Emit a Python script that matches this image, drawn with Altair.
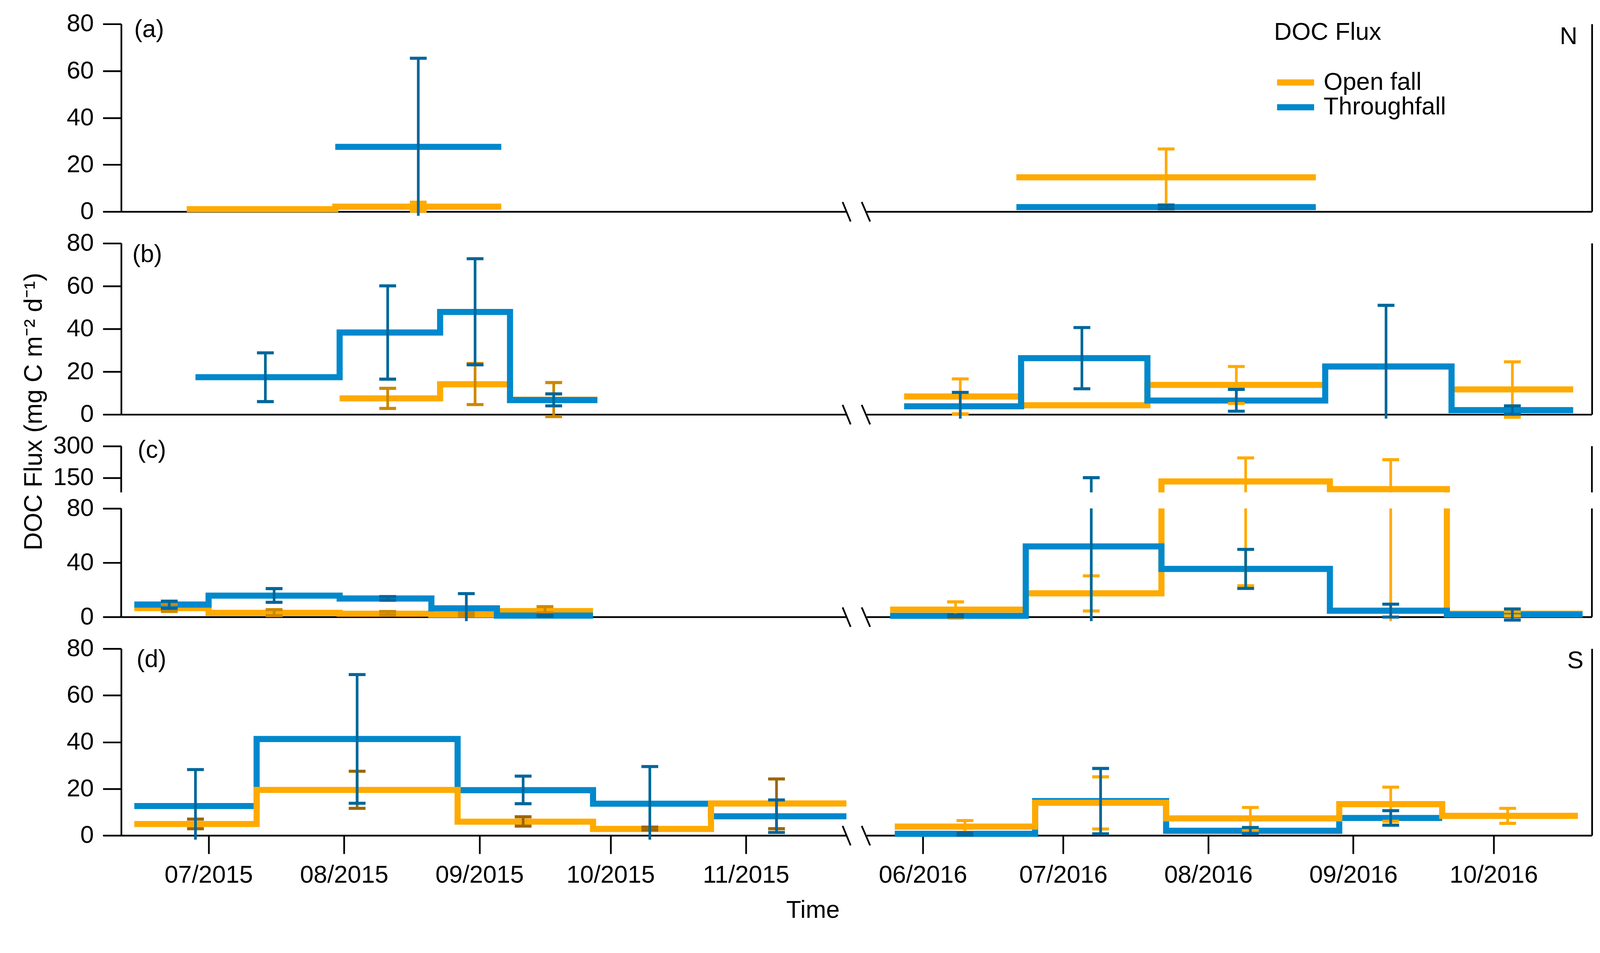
import altair as alt
import pandas as pd

FONT = "Liberation Sans"
ORANGE = "#FFAA00"
BLUE = "#0088CC"
BLUE_ERR = "#00669A"
SERIES = ["Open fall", "Throughfall"]
YTITLE = "DOC Flux (mg C m\u207b\u00b2 d\u207b\u00b9)"

# ---------------- data ----------------
months_2015 = [7, 8, 9, 10, 11]
months_2016 = [6, 7, 8, 9, 10]

# Panel (a) N
a15_bounds = ["2015-06-26", "2015-07-30", "2015-09-06"]
a15_open = [1.0, 2.1]
a15_thru = [None, 27.6]
a15_eb = ["2015-08-18"]
a15_open_lo = [0.2]
a15_open_hi = [4.0]
a15_thru_lo = [-4.0]
a15_thru_hi = [65.4]

a16_bounds = ["2016-06-21", "2016-08-24"]
a16_open = [14.6]
a16_thru = [1.9]
a16_eb = ["2016-07-23"]
a16_open_lo = [2.9]
a16_open_hi = [26.7]
a16_thru_lo = [1.2]
a16_thru_hi = [2.7]

# Panel (b)
b15_bounds = ["2015-06-28", "2015-07-31", "2015-08-23", "2015-09-08", "2015-09-28"]
b15_open = [None, 7.5, 14.1, 6.9]
b15_thru = [17.4, 38.3, 47.9, 6.7]
b15_eb = ["2015-07-14", "2015-08-11", "2015-08-31", "2015-09-18"]
b15_open_lo = [None, 2.8, 4.6, -1.0]
b15_open_hi = [None, 12.2, 23.8, 14.9]
b15_thru_lo = [6.0, 16.5, 23.2, 4.0]
b15_thru_hi = [28.8, 60.1, 72.8, 9.6]

b16_bounds = ["2016-05-28", "2016-06-22", "2016-07-19", "2016-08-26", "2016-09-22", "2016-10-18"]
b16_open = [8.4, 4.3, 13.8, None, 11.7]
b16_thru = [3.8, 26.3, 6.5, 22.4, 2.0]
b16_eb = ["2016-06-09", "2016-07-05", "2016-08-07", "2016-09-08", "2016-10-05"]
b16_open_lo = [0.3, None, 5.1, None, -1.3]
b16_open_hi = [16.6, None, 22.4, None, 24.6]
b16_thru_lo = [-4.0, 12.0, 1.5, -4.0, 0.1]
b16_thru_hi = [10.3, 40.6, 11.7, 51.0, 4.0]

# Panel (c)  (broken y axis: 0-80 and 80-300)
c15_bounds = ["2015-06-14", "2015-07-01", "2015-07-31", "2015-08-21", "2015-09-05", "2015-09-27"]
c15_open = [6.5, 3.0, 2.4, 1.7, 4.3]
c15_thru = [9.1, 15.7, 13.6, 6.3, 1.0]
c15_eb = ["2015-06-22", "2015-07-16", "2015-08-11", "2015-08-29", "2015-09-16"]
c15_open_lo = [4.0, 1.0, 1.5, 0.8, 3.0]
c15_open_hi = [9.1, 5.4, 4.0, 3.0, 7.6]
c15_thru_lo = [6.3, 10.8, 12.3, -6.0, 0.5]
c15_thru_hi = [11.6, 20.9, 15.0, 17.2, 1.5]

c16_bounds = ["2016-05-25", "2016-06-23", "2016-07-22", "2016-08-27", "2016-09-21", "2016-10-20"]
c16_open = [5.4, 17.4, 132.2, 95.4, 2.4]
c16_thru = [0.8, 52.0, 35.4, 4.6, 1.8]
c16_eb = ["2016-06-08", "2016-07-07", "2016-08-09", "2016-09-09", "2016-10-05"]
c16_open_lo = [-0.9, 4.4, 23.0, -6.0, 0.8]
c16_open_hi = [11.1, 30.3, 244.0, 235.5, 4.0]
c16_thru_lo = [0.0, -6.0, 21.0, -0.1, -2.3]
c16_thru_hi = [1.5, 150.0, 49.8, 9.4, 5.9]

# Panel (d) S
d15_bounds = ["2015-06-14", "2015-07-12", "2015-08-27", "2015-09-27", "2015-10-24", "2015-11-24"]
d15_open = [4.9, 19.5, 5.9, 2.8, 13.7]
d15_thru = [12.6, 41.3, 19.4, 13.6, 8.2]
d15_eb = ["2015-06-28", "2015-08-04", "2015-09-11", "2015-10-10", "2015-11-08"]
d15_open_lo = [2.9, 11.6, 4.0, 2.3, 2.9]
d15_open_hi = [7.0, 27.5, 8.0, 3.6, 24.2]
d15_thru_lo = [-4.0, 13.8, 13.6, -4.0, 1.3]
d15_thru_hi = [28.2, 68.9, 25.4, 29.5, 15.2]

d16_bounds = ["2016-05-26", "2016-06-25", "2016-07-23", "2016-08-29", "2016-09-20", "2016-10-19"]
d16_open = [3.8, 14.0, 7.3, 13.4, 8.4]
d16_thru = [0.7, 14.7, 2.0, 7.5, None]
d16_eb = ["2016-06-10", "2016-07-09", "2016-08-10", "2016-09-09", "2016-10-04"]
d16_open_lo = [1.4, 2.8, 2.3, 6.1, 5.2]
d16_open_hi = [6.4, 25.1, 12.0, 20.7, 11.6]
d16_thru_lo = [0.2, 0.7, 0.7, 4.4, None]
d16_thru_hi = [1.2, 28.7, 3.4, 10.6, None]


def pack(bounds, op, th, eb, olo, ohi, tlo, thi):
    return dict(bounds=bounds, open=op, thru=th, eb=eb,
                open_lo=olo, open_hi=ohi, thru_lo=tlo, thru_hi=thi)


PANELS = {
    "a15": pack(a15_bounds, a15_open, a15_thru, a15_eb, a15_open_lo, a15_open_hi, a15_thru_lo, a15_thru_hi),
    "a16": pack(a16_bounds, a16_open, a16_thru, a16_eb, a16_open_lo, a16_open_hi, a16_thru_lo, a16_thru_hi),
    "b15": pack(b15_bounds, b15_open, b15_thru, b15_eb, b15_open_lo, b15_open_hi, b15_thru_lo, b15_thru_hi),
    "b16": pack(b16_bounds, b16_open, b16_thru, b16_eb, b16_open_lo, b16_open_hi, b16_thru_lo, b16_thru_hi),
    "c15": pack(c15_bounds, c15_open, c15_thru, c15_eb, c15_open_lo, c15_open_hi, c15_thru_lo, c15_thru_hi),
    "c16": pack(c16_bounds, c16_open, c16_thru, c16_eb, c16_open_lo, c16_open_hi, c16_thru_lo, c16_thru_hi),
    "d15": pack(d15_bounds, d15_open, d15_thru, d15_eb, d15_open_lo, d15_open_hi, d15_thru_lo, d15_thru_hi),
    "d16": pack(d16_bounds, d16_open, d16_thru, d16_eb, d16_open_lo, d16_open_hi, d16_thru_lo, d16_thru_hi),
}

# ---------------- layout constants ----------------
W = 1898
FLOOR_PX = 11
AXW = 4.5
H_A, H_B, H_C, H_D = 491, 448, 447, 489

# panel (c): lower part 0-80 (284 px), gap 42 px, upper part 80-300 (121 px)
C_LOW_PX, C_UP_PX = 284, 121
C_PPU = C_LOW_PX / 80.0                      # px per lower unit
C_VMAX = H_C / C_PPU                         # scale top in lower units
C_U80 = (H_C - C_UP_PX) / C_PPU              # where 80 of the upper part sits
C_KU = (C_UP_PX / 220.0) / C_PPU             # upper units -> lower units


def c_upper(v):
    return min(C_U80 + (v - 80.0) * C_KU, C_VMAX)


def ident(v):
    return v


XDOM = {
    2015: [alt.DateTime(year=2015, month=6, date=11, utc=True),
           alt.DateTime(year=2015, month=11, date=24, utc=True)],
    2016: [alt.DateTime(year=2016, month=5, date=20, utc=True),
           alt.DateTime(year=2016, month=10, date=22, utc=True)],
}
XTICKS = {
    2015: [alt.DateTime(year=2015, month=m, date=1, utc=True) for m in months_2015],
    2016: [alt.DateTime(year=2016, month=m, date=1, utc=True) for m in months_2016],
}
CS = alt.Scale(domain=SERIES, range=[ORANGE, BLUE])

LEGEND = alt.Legend(
    title="DOC Flux", orient="none", legendX=1066, legendY=-9, padding=0,
    titleFontSize=64, titleFont=FONT, titleFontWeight="normal", titleColor="black",
    titlePadding=66, titleLimit=800, labelFontSize=64, labelFont=FONT, labelColor="black",
    labelLimit=800, labelOffset=17, symbolType="stroke", symbolStrokeWidth=16,
    symbolSize=9400, clipHeight=64, rowPadding=1,
)


def step_paths(bounds, values, ymin, ymax, tag):
    """Step outline of each run of periods, clipped to [ymin, ymax]."""
    raw, cur = [], []
    for i, v in enumerate(values):
        if v is None:
            if cur:
                raw.append(cur)
            cur = []
            continue
        cur.append(i)
    if cur:
        raw.append(cur)
    rows, run = [], 0
    for idx in raw:
        pts = []
        for i in idx:
            pts.append((bounds[i], values[i]))
            pts.append((bounds[i + 1], values[i]))
        segs = []
        for (x1, y1), (x2, y2) in zip(pts[:-1], pts[1:]):
            if y1 == y2:
                if ymin <= y1 <= ymax and x1 != x2:
                    segs.append(((x1, y1), (x2, y2)))
            else:
                lo, hi = max(min(y1, y2), ymin), min(max(y1, y2), ymax)
                if lo < hi:
                    segs.append(((x1, lo if y1 < y2 else hi), (x2, hi if y1 < y2 else lo)))
        last = None
        for p, q in segs:
            if last is None or p != last:
                run += 1
                rows.append({"date": p[0], "value": p[1], "run": f"{tag}{run}"})
            rows.append({"date": q[0], "value": q[1], "run": f"{tag}{run}"})
            last = q
    return pd.DataFrame(rows)


def err_frames(dates, lo, hi, floor, ceiling):
    rules, caps = [], []
    for d, l, h in zip(dates, lo, hi):
        if l is None or h is None:
            continue
        y1, y2 = max(l, floor), min(h, ceiling)
        if y2 <= y1:
            continue
        rules.append({"date": d, "lo": y1, "hi": y2})
        for v in (l, h):
            if floor <= v <= ceiling:
                caps.append({"date": d, "value": v})
    return pd.DataFrame(rules), pd.DataFrame(caps)


def frames(key, bands):
    d = PANELS[key]
    out = {}
    for s in SERIES:
        vals = d["open"] if s == "Open fall" else d["thru"]
        lo, hi = (d["open_lo"], d["open_hi"]) if s == "Open fall" else (d["thru_lo"], d["thru_hi"])
        L, R, C = [], [], []
        for bi, (lmin, lmax, rfloor, rceil, vmap) in enumerate(bands):
            df = step_paths(d["bounds"], vals, lmin, lmax, f"{s}-{bi}-")
            if not df.empty:
                df["value"] = df["value"].map(vmap)
                L.append(df)
            r, c = err_frames(d["eb"], lo, hi, rfloor, rceil)
            if not r.empty:
                r["lo"] = r["lo"].map(vmap)
                r["hi"] = r["hi"].map(vmap)
                R.append(r)
            if not c.empty:
                c["value"] = c["value"].map(vmap)
                C.append(c)
        L = pd.concat(L, ignore_index=True) if L else pd.DataFrame()
        if not L.empty:
            L["series"] = s
            L["order"] = range(len(L))
        R = pd.concat(R, ignore_index=True) if R else pd.DataFrame()
        C = pd.concat(C, ignore_index=True) if C else pd.DataFrame()
        out[s] = (L, R, C)
    return out


def x_axis(year, mode, xtitle):
    if mode == "line":
        return alt.Axis(domain=True, ticks=False, labels=False, grid=False, title=None)
    kw = dict(values=XTICKS[year], labelExpr="utcFormat(datum.value, '%m/%Y')",
              tickSize=48, labelPadding=24, labelFlush=False, labelLimit=800,
              labelOverlap=False, grid=False, domain=True, ticks=True, labels=True,
              labelFontSize=64)
    if xtitle:
        kw.update(title="Time", titleX=1810, titleY=215, titleAlign="center",
                  titleBaseline="alphabetic", titleFontSize=64,
                  titleFontWeight="normal", titleAngle=0)
    else:
        kw["title"] = None
    return alt.Axis(**kw)


def y_axis(side, yticks, ytitle, label_expr, manual):
    if side == "left":
        kw = dict(orient="left", values=yticks, tickSize=48, labelPadding=24,
                  grid=False, domain=not manual, ticks=True, labels=True, labelFontSize=64)
        if label_expr:
            kw["labelExpr"] = label_expr
        if ytitle:
            kw.update(title=YTITLE, titleX=-228, titleY=440, titleAngle=270,
                      titleAlign="center", titleBaseline="middle", titleLimit=2000,
                      titleFontSize=66, titleFontWeight="normal")
        else:
            kw["title"] = None
        return alt.Axis(**kw)
    if manual:
        return None
    return alt.Axis(orient="right", ticks=False, labels=False, domain=True,
                    grid=False, title=None)


def text_layer(txt, x, y, align):
    return (alt.Chart(pd.DataFrame({"t": [txt]}))
            .mark_text(align=align, baseline="alphabetic", fontSize=64, font=FONT, color="black")
            .encode(text="t:N", x=alt.value(x), y=alt.value(y)))


def slash_layer(side, height):
    x1, x2 = (W - 10, W + 11) if side == "left" else (-13, 9)
    return (alt.Chart(pd.DataFrame({"k": [0]}))
            .mark_rule(color="black", strokeWidth=AXW)
            .encode(x=alt.value(x1), x2=alt.value(x2),
                    y=alt.value(height - 25), y2=alt.value(height + 26)))


def panel(key, year, side, height, ydom, yticks, bands, top_series, err_orange, xmode,
          legend=False, ytitle=False, xtitle=False, label_expr=None, manual_domain=None,
          extra=()):
    X = alt.X("date:T", scale=alt.Scale(type="utc", domain=XDOM[year]),
              axis=x_axis(year, xmode, xtitle))
    YS = alt.Scale(domain=ydom, nice=False, zero=False)
    yaxis = y_axis(side, yticks, ytitle, label_expr, manual_domain is not None)
    fr = frames(key, bands)
    layers = []
    order = ["Throughfall", "Open fall"] if top_series == "Open fall" else ["Open fall", "Throughfall"]
    for s in order:
        L = fr[s][0]
        if L.empty:
            continue
        layers.append(
            alt.Chart(L).mark_line(strokeWidth=16, strokeCap="butt", strokeJoin="miter")
            .encode(x=X, y=alt.Y("value:Q", scale=YS, axis=yaxis),
                    color=alt.Color("series:N", scale=CS, legend=LEGEND if legend else None),
                    detail="run:N", order="order:Q")
        )
    for s, col in (("Open fall", err_orange), ("Throughfall", BLUE_ERR)):
        _, R, C = fr[s]
        if not R.empty:
            layers.append(
                alt.Chart(R).mark_rule(strokeWidth=7, color=col, strokeCap="butt")
                .encode(x=X, y=alt.Y("lo:Q", scale=YS, axis=yaxis), y2="hi:Q")
            )
        if not C.empty:
            layers.append(
                alt.Chart(C).mark_tick(orient="horizontal", size=44, thickness=8,
                                       color=col, opacity=1)
                .encode(x=X, y=alt.Y("value:Q", scale=YS, axis=yaxis))
            )
    if manual_domain is not None:
        seg = pd.DataFrame({"lo": [a for a, b in manual_domain], "hi": [b for a, b in manual_domain]})
        layers.append(
            alt.Chart(seg).mark_rule(color="black", strokeWidth=AXW, strokeCap="butt")
            .encode(x=alt.value(0 if side == "left" else W),
                    y=alt.Y("lo:Q", scale=YS, axis=yaxis), y2="hi:Q")
        )
    layers.extend(extra)
    layers.append(slash_layer(side, height))
    return alt.layer(*layers).properties(width=W, height=height)


def simple_bands(height):
    return [(-1e9, 1e9, -FLOOR_PX * 80.0 / height, 80.0, ident)]


C_BANDS = [(-1e9, 80.0, -FLOOR_PX / C_PPU, 80.0, ident),
           (80.0, 1e9, 80.0, 300.0, c_upper)]
C_TICKS = [0, 40, 80, c_upper(150), C_VMAX]
C_LABEL = (f"datum.value > {C_U80 - 1:.4f} ? format(80 + (datum.value - {C_U80:.6f}) / {C_KU:.6f}, '.0f')"
           f" : format(datum.value, '.0f')")
C_DOMAIN = [(0, 80), (c_upper(80), C_VMAX)]
Y80 = [0, 20, 40, 60, 80]

a_left = panel("a15", 2015, "left", H_A, [0, 80], Y80, simple_bands(H_A), "Throughfall",
               ORANGE, "line", extra=[text_layer("(a)", 34, 34, "left")])
a_right = panel("a16", 2016, "right", H_A, [0, 80], Y80, simple_bands(H_A), "Throughfall",
                ORANGE, "line", legend=True, extra=[text_layer("N", 1860, 53, "right")])
b_left = panel("b15", 2015, "left", H_B, [0, 80], Y80, simple_bands(H_B), "Throughfall",
               "#CC8800", "line", ytitle=True, extra=[text_layer("(b)", 29, 49, "left")])
b_right = panel("b16", 2016, "right", H_B, [0, 80], Y80, simple_bands(H_B), "Throughfall",
                ORANGE, "line")
c_left = panel("c15", 2015, "left", H_C, [0, C_VMAX], C_TICKS, C_BANDS, "Throughfall",
               "#CC8800", "line", label_expr=C_LABEL, manual_domain=C_DOMAIN,
               extra=[text_layer("(c)", 43, 30, "left")])
c_right = panel("c16", 2016, "right", H_C, [0, C_VMAX], C_TICKS, C_BANDS, "Throughfall",
                ORANGE, "line", manual_domain=C_DOMAIN)
d_left = panel("d15", 2015, "left", H_D, [0, 80], Y80, simple_bands(H_D), "Open fall",
               "#9C6600", "full", xtitle=True, extra=[text_layer("(d)", 40, 48, "left")])
d_right = panel("d16", 2016, "right", H_D, [0, 80], Y80, simple_bands(H_D), "Open fall",
                ORANGE, "full", extra=[text_layer("S", 1876, 51, "right")])

chart = (
    alt.concat(a_left, a_right, b_left, b_right, c_left, c_right, d_left, d_right,
               columns=2, spacing={"row": 83, "column": 53}, bounds="flush")
    .resolve_scale(x="independent", y="independent", color="independent")
    .resolve_legend(color="independent")
    .properties(padding={"left": 48, "top": -4, "right": 5, "bottom": 5}, background="white")
    .configure(font=FONT)
    .configure_view(strokeWidth=0)
    .configure_axis(domainColor="black", domainWidth=AXW, tickColor="black", tickWidth=AXW,
                    labelColor="black", labelFont=FONT, labelFontSize=64, titleFont=FONT,
                    titleColor="black", grid=False)
)

chart.save("out.html", embed_options={"renderer": "svg", "actions": False})
